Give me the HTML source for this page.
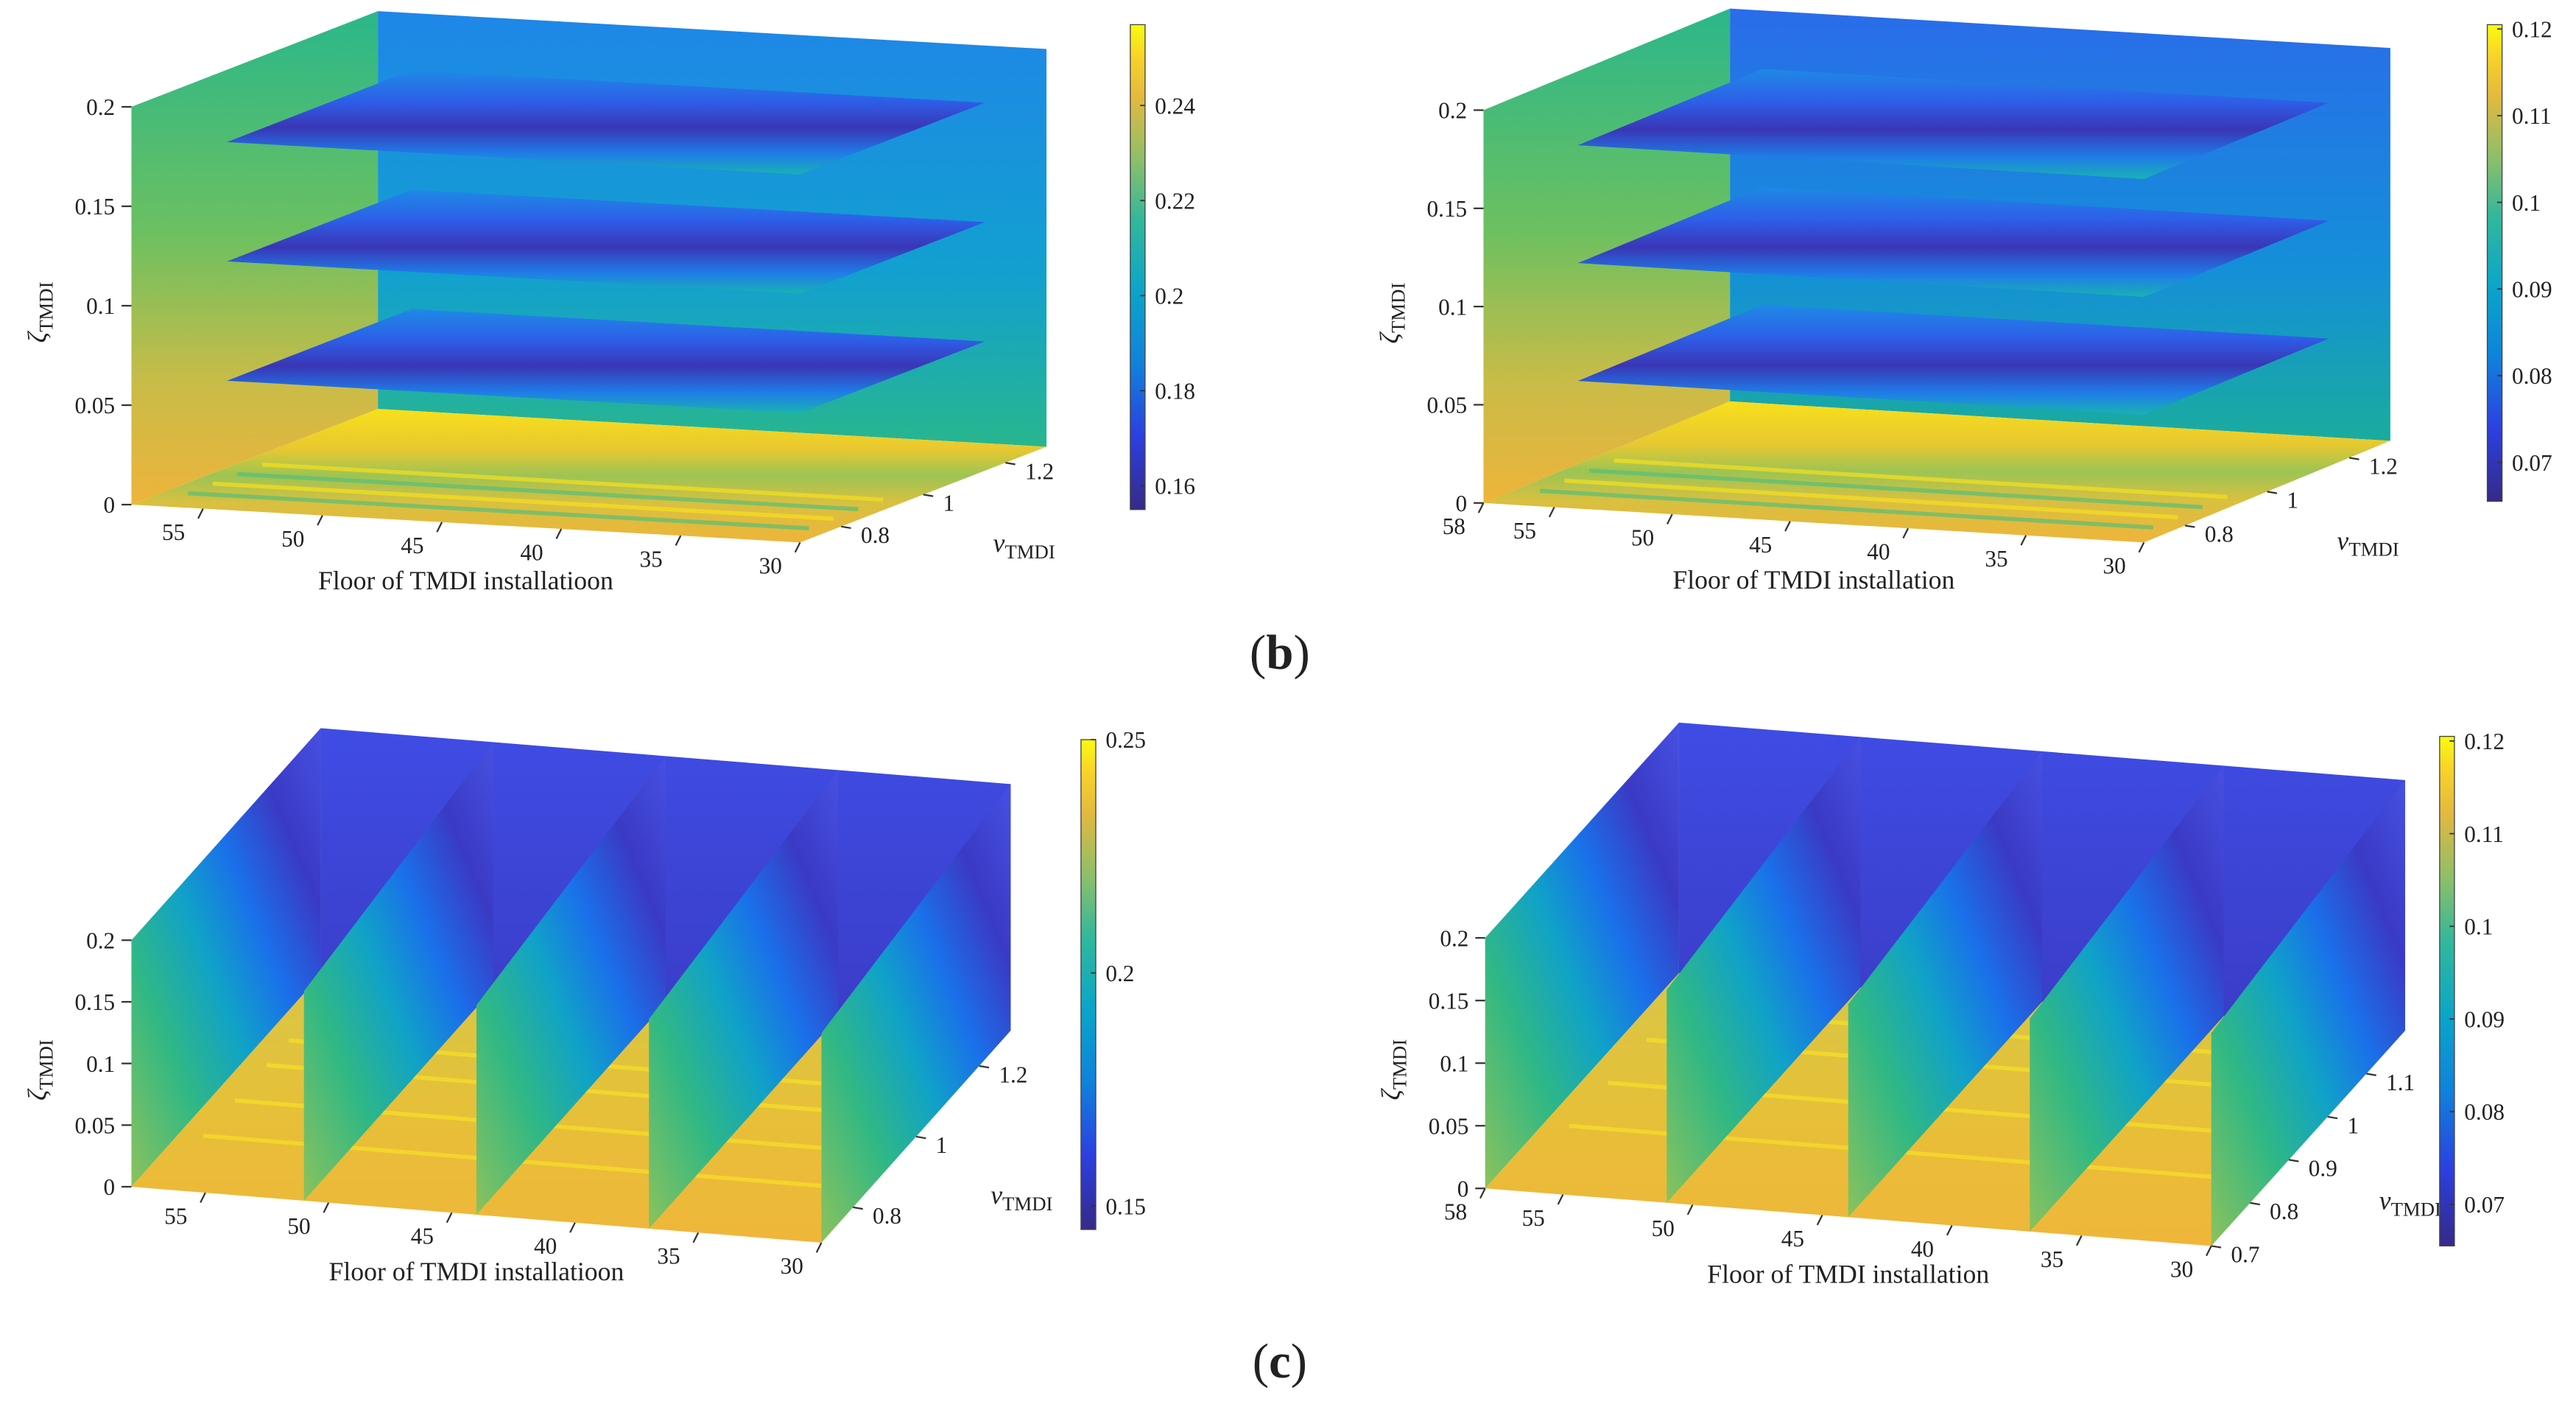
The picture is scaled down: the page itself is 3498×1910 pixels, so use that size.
<!DOCTYPE html>
<html><head><meta charset="utf-8"><style>
html,body{margin:0;padding:0;background:#fff}
svg{display:block}
text{font-family:"Liberation Serif",serif;fill:#222}
</style></head><body>
<svg id="fig" width="3498" height="1910" viewBox="0 0 1568 856" preserveAspectRatio="none" xmlns="http://www.w3.org/2000/svg">
<defs>
<linearGradient id="parula" x1="0" y1="1" x2="0" y2="0">
<stop offset="0" stop-color="#352a87"/><stop offset="0.15" stop-color="#2c3fe0"/><stop offset="0.3" stop-color="#1081dc"/><stop offset="0.45" stop-color="#0aa5c9"/><stop offset="0.6" stop-color="#33b89a"/><stop offset="0.72" stop-color="#8cbf6a"/><stop offset="0.85" stop-color="#e3b93e"/><stop offset="0.93" stop-color="#f8d12a"/><stop offset="1" stop-color="#f9fb0e"/></linearGradient>
<linearGradient id="floorB" x1="0" y1="1" x2="0" y2="0"><stop offset="0" stop-color="#eeb53a"/><stop offset="0.3" stop-color="#d8c040"/><stop offset="0.5" stop-color="#9cc454"/><stop offset="0.7" stop-color="#e8c830"/><stop offset="1" stop-color="#f8e01a"/></linearGradient>
<linearGradient id="floorC" x1="0" y1="1" x2="0" y2="0"><stop offset="0" stop-color="#f0b63a"/><stop offset="0.5" stop-color="#e6c038"/><stop offset="1" stop-color="#d8c646"/></linearGradient>
<linearGradient id="wallL" x1="0" y1="0" x2="0" y2="1"><stop offset="0" stop-color="#2ab78a"/><stop offset="0.45" stop-color="#6cc060"/><stop offset="0.75" stop-color="#c8bc48"/><stop offset="1" stop-color="#eeb43a"/></linearGradient>
<linearGradient id="backB" x1="0" y1="0" x2="0" y2="1"><stop offset="0" stop-color="#1f86e8"/><stop offset="0.6" stop-color="#12a0d0"/><stop offset="1" stop-color="#28b68e"/></linearGradient>
<linearGradient id="backB2" x1="0" y1="0" x2="0" y2="1"><stop offset="0" stop-color="#2a6cea"/><stop offset="0.6" stop-color="#148fd8"/><stop offset="1" stop-color="#1aac9e"/></linearGradient>
<linearGradient id="slabB" x1="0" y1="0" x2="0" y2="1"><stop offset="0" stop-color="#1e8ae6"/><stop offset="0.3" stop-color="#2d5ee8"/><stop offset="0.55" stop-color="#3a36b6"/><stop offset="0.8" stop-color="#1f7ce8"/><stop offset="1" stop-color="#18b2b4"/></linearGradient>
<linearGradient id="backC" x1="0" y1="0" x2="0" y2="1"><stop offset="0" stop-color="#3f4ce4"/><stop offset="1" stop-color="#3a3cc6"/></linearGradient>
<linearGradient id="sliceC" x1="0" y1="1" x2="1" y2="0"><stop offset="0" stop-color="#8cc25c"/><stop offset="0.25" stop-color="#30b884"/><stop offset="0.45" stop-color="#10a2c8"/><stop offset="0.62" stop-color="#1a70ea"/><stop offset="0.8" stop-color="#3a3ac4"/><stop offset="1" stop-color="#4650e2"/></linearGradient>
</defs>
<g id="root"></g>
</svg>
<script>
const zetaTicks=[0,0.05,0.1,0.15,0.2];
const zetaTickLabels=["0","0.05","0.1","0.15","0.2"];
const floorTicksA=[55,50,45,40,35,30];
const floorTicksB=[58,55,50,45,40,35,30];
const nuTicksA=[0.8,1,1.2];
const nuTicksD=[0.7,0.8,0.9,1,1.1];
const slabLevels=[0.065,0.125,0.185];
const sliceFloors=[58,51,44,37,30];
const sliceTops=[0.2,0.17,0.17,0.17,0.17];
const streaksB=[0.78,0.84,0.9,0.96];
const streaksC=[0.85,0.95,1.05,1.12];
const cbTicksTL=[0.16,0.18,0.2,0.22,0.24];
const cbTicksTR=[0.07,0.08,0.09,0.1,0.11,0.12];
const cbTicksBL=[0.15,0.2,0.25];
const cbTicksBR=[0.07,0.08,0.09,0.1,0.11,0.12];

const NS="http://www.w3.org/2000/svg";
const root=document.getElementById('root');
function mk(tag,attrs,parent){const e=document.createElementNS(NS,tag);for(const k in attrs)e.setAttribute(k,attrs[k]);(parent||root).appendChild(e);return e;}
function P(c,f,nu,z){return[c.A[0]+(58-f)*c.fv[0]+(nu-c.nu0)*c.nv[0],c.A[1]+(58-f)*c.fv[1]+(nu-c.nu0)*c.nv[1]+z*c.zv];}
function poly(c,pts,fill,g,name){const s=pts.map(p=>P(c,p[0],p[1],p[2]).join(',')).join(' ');const e=mk('polygon',{points:s,fill:fill},g);


return e;}
function txt(g,x,y,s,size,anchor,name){const t=mk('text',{x:x,y:y,'font-size':size,'text-anchor':anchor||'middle'},g);t.textContent=s;


return t;}

const panels=[
 {id:'tl',type:'b',A:[80,307],fv:[407/28,23/28],nu0:0.7,nu1:1.3,nv:[250,-97],zv:-1210,floors:floorTicksA,nus:nuTicksA,back:'url(#backB)',
  cb:{x:688,y0:310,y1:15,min:0.155,max:0.257,ticks:cbTicksTL},label:'Floor of TMDI installatioon'},
 {id:'tr',type:'b',A:[903,306],fv:[402/28,24/28],nu0:0.7,nu1:1.3,nv:[250,-103],zv:-1195,floors:floorTicksB,nus:nuTicksA,back:'url(#backB2)',
  cb:{x:1514,y0:305,y1:15,min:0.0655,max:0.1205,ticks:cbTicksTR},label:'Floor of TMDI installation'},
 {id:'bl',type:'c',A:[80,722],fv:[420/28,34/28],nu0:0.7,nu1:1.3,nv:[192,-215],zv:-750,floors:floorTicksA,nus:nuTicksA,back:'url(#backC)',
  cb:{x:658,y0:748,y1:450,min:0.145,max:0.25,ticks:cbTicksBL},label:'Floor of TMDI installatioon'},
 {id:'br',type:'c',A:[904,723],fv:[442/28,35/28],nu0:0.7,nu1:1.2,nv:[236,-262],zv:-762,floors:floorTicksB,nus:nuTicksD,back:'url(#backC)',
  cb:{x:1485,y0:758,y1:448,min:0.0655,max:0.1205,ticks:cbTicksBR},label:'Floor of TMDI installation'}
];

panels.forEach(c=>{
 const g=mk('g',{});
 
 
 const n0=c.nu0,n1=c.nu1;
 poly(c,[[58,n1,0],[30,n1,0],[30,n1,0.2],[58,n1,0.2]],c.back,g,'back-wall');
 poly(c,[[58,n0,0],[30,n0,0],[30,n1,0],[58,n1,0]],c.type==='b'?'url(#floorB)':'url(#floorC)',g,'floor-slice');
 (c.type==='b'?streaksB:streaksC).forEach((v,i)=>{const a=P(c,57,v,0),b=P(c,31,v,0);
  const l=mk('line',{x1:a[0],y1:a[1],x2:b[0],y2:b[1],stroke:c.type==='b'?(i%2?'#f6e020':'#58bf78'):'#f8e028','stroke-width':2.5,opacity:0.7},g);
  
  });
 if(c.type==='b'){
  poly(c,[[58,n0,0],[58,n1,0],[58,n1,0.2],[58,n0,0.2]],'url(#wallL)',g,'floor-58-slice');
  slabLevels.forEach(z=>{poly(c,[[54,n0,z],[30,n0,z],[30,1.15,z],[54,1.15,z]],'url(#slabB)',g,'zeta-slice');});
 }else{
  sliceFloors.forEach((f,i)=>{const t=sliceTops[i];poly(c,[[f,n0,0],[f,n1,0],[f,n1,0.2],[f,n0,t]],'url(#sliceC)',g,'floor-slice-'+f);});
 }
 zetaTicks.forEach((z,i)=>{const p=P(c,58,n0,z);mk('line',{x1:p[0]-6,y1:p[1],x2:p[0],y2:p[1],stroke:'#333','stroke-width':1},g);
  txt(g,p[0]-10,p[1]+5,zetaTickLabels[i],14,'end','zeta-tick-label');});
 const zm=P(c,58,n0,0.1);
 const zl=mk('text',{x:0,y:0,'font-size':16,'text-anchor':'middle',transform:`translate(${zm[0]-52},${zm[1]+4}) rotate(-90)`},g);
 
 
 zl.innerHTML='<tspan font-style="italic">ζ</tspan><tspan font-size="12" dy="4">TMDI</tspan>';
 c.floors.forEach(f=>{const p=P(c,f,n0,0);mk('line',{x1:p[0],y1:p[1],x2:p[0]-3,y2:p[1]+6,stroke:'#333','stroke-width':1},g);
  txt(g,p[0]-18,p[1]+19,String(f),14,'middle','floor-tick-label');});
 const fm=P(c,44,n0,0);
 txt(g,fm[0],fm[1]+40,c.label,16,'middle','x-axis-title');
 c.nus.forEach(v=>{const p=P(c,30,v,0);mk('line',{x1:p[0],y1:p[1],x2:p[0]+6,y2:p[1]+1,stroke:'#333','stroke-width':1},g);
  txt(g,p[0]+12,p[1]+10,String(v),14,'start','nu-tick-label');});
 const nm=P(c,30,(n0+n1)/2-0.05,0);
 const nl=mk('text',{x:nm[0]+55,y:nm[1]+30,'font-size':16,'text-anchor':'start'},g);
 
 
 nl.innerHTML='<tspan font-style="italic">ν</tspan><tspan font-size="12" dy="4">TMDI</tspan>';
 const cb=c.cb;
 const bar=mk('rect',{x:cb.x,y:cb.y1,width:9,height:cb.y0-cb.y1,fill:'url(#parula)',stroke:'#444','stroke-width':0.6},g);
 
 
 cb.ticks.forEach(t=>{const y=cb.y0-(t-cb.min)/(cb.max-cb.min)*(cb.y0-cb.y1);
  mk('line',{x1:cb.x+6,y1:y,x2:cb.x+9,y2:y,stroke:'#333','stroke-width':0.8},g);
  txt(g,cb.x+15,y+5,String(t),14,'start','colorbar-tick-label');});
});
const lb=mk('text',{x:779,y:407,'font-size':30,'text-anchor':'middle'});


lb.innerHTML='(<tspan font-weight="bold">b</tspan>)';
const lc=mk('text',{x:779,y:838,'font-size':30,'text-anchor':'middle'});


lc.innerHTML='(<tspan font-weight="bold">c</tspan>)';
</script>
</body></html>
